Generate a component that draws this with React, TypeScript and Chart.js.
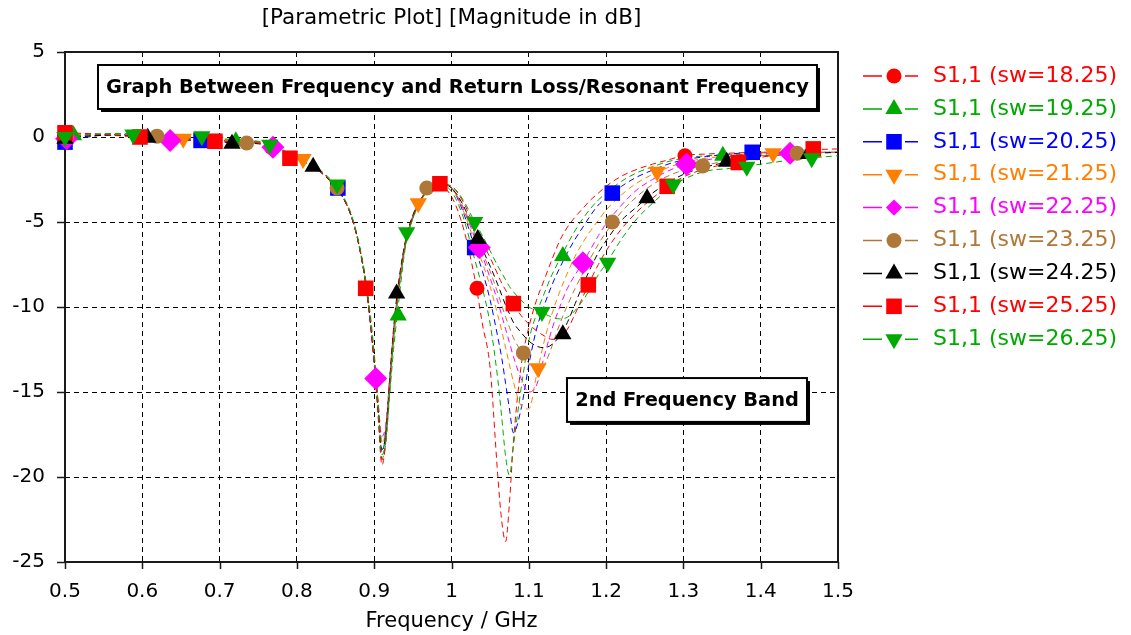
import React, { useEffect, useRef } from 'react';
import { Chart, registerables } from 'chart.js';

Chart.register(...registerables);

const FONT = "'DejaVu Sans', Verdana, sans-serif";

// Frequency grid (GHz) shared by all curves
const freqGHz = [0.50, 0.53, 0.56, 0.60, 0.65, 0.70, 0.75, 0.77, 0.79, 0.81, 0.83, 0.85, 0.86, 0.87, 0.88, 0.89, 0.90, 0.905, 0.91, 0.915, 0.92, 0.925, 0.93, 0.94, 0.95, 0.96, 0.97, 0.985, 1.00, 1.015, 1.03, 1.04, 1.05, 1.06, 1.065, 1.07, 1.075, 1.08, 1.09, 1.10, 1.11, 1.12, 1.13, 1.14, 1.15, 1.16, 1.17, 1.18, 1.19, 1.20, 1.22, 1.24, 1.26, 1.28, 1.30, 1.33, 1.36, 1.40, 1.45, 1.50];

// S1,1 magnitude (dB) per sweep value
const s11_sw1825 = [0.1, 0.2, 0.1, 0.1, -0.05, -0.2, -0.35, -0.6, -1.05, -1.45, -2.0, -2.9, -3.6, -4.6, -6.3, -9.0, -13.3, -16.4, -19.3, -17.9, -14.6, -11.6, -9.4, -6.3, -4.7, -3.7, -3.1, -2.9,
  -3.5, -5.3, -8.3, -11.0, -13.6, -20.0, -22.6, -23.8, -21.5, -18.0, -13.5, -11.2, -9.6, -8.4, -7.2, -6.1, -5.3, -4.7, -4.2, -3.7, -3.3, -2.9, -2.3, -1.9, -1.6, -1.35, -1.1, -1.0, -0.95, -0.9, -0.9, -0.9];
const s11_sw1925 = [0.05, 0.1, 0.2, 0.15, 0.0, -0.15, -0.3, -0.55, -1.0, -1.4, -2.0, -2.9, -3.6, -4.6, -6.2, -8.7, -12.7, -15.8, -18.9, -18.0, -15.2, -12.5, -10.4, -6.6, -4.8, -3.8, -3.1, -2.8,
  -3.2, -4.7, -7.2, -8.9, -11.0, -14.3, -16.5, -18.8, -19.9, -18.2, -14.8, -12.0, -10.4, -9.2, -8.1, -7.2, -6.3, -5.5, -4.8, -4.2, -3.7, -3.3, -2.6, -2.1, -1.75, -1.45, -1.25, -1.1, -1.05, -1.0, -0.95, -0.9];
const s11_sw2025 = [-0.3, 0.0, 0.15, 0.1, -0.1, -0.2, -0.3, -0.55, -1.0, -1.4, -2.0, -2.9, -3.6, -4.6, -6.3, -8.9, -13.0, -15.8, -18.5, -17.4, -14.4, -11.6, -9.5, -6.3, -4.7, -3.7, -3.1, -2.75,
  -3.0, -4.4, -6.5, -7.9, -9.6, -11.8, -13.0, -14.5, -16.0, -17.4, -16.0, -13.4, -11.3, -9.9, -8.7, -7.7, -6.8, -6.0, -5.3, -4.6, -4.0, -3.6, -2.9, -2.35, -1.95, -1.6, -1.35, -1.15, -1.0, -0.9, -0.9, -0.9];
const s11_sw2125 = [0.0, 0.15, 0.1, 0.1, -0.1, -0.2, -0.3, -0.55, -1.0, -1.35, -2.0, -2.9, -3.6, -4.6, -6.3, -8.9, -12.8, -15.5, -18.0, -17.2, -14.3, -11.6, -9.5, -6.3, -4.6, -3.7, -3.05, -2.75,
  -3.0, -4.3, -6.2, -7.4, -8.8, -10.5, -11.4, -12.4, -13.4, -14.4, -15.8, -16.0, -14.0, -12.0, -10.4, -9.1, -8.0, -7.0, -6.2, -5.5, -4.9, -4.3, -3.4, -2.7, -2.2, -1.8, -1.5, -1.25, -1.1, -0.95, -0.9, -0.9];
const s11_sw2225 = [-0.1, 0.1, 0.1, 0.05, -0.15, -0.25, -0.35, -0.6, -1.0, -1.4, -2.0, -2.9, -3.6, -4.6, -6.3, -9.0, -13.4, -15.6, -17.6, -16.9, -14.2, -11.5, -9.4, -6.3, -4.7, -3.7, -3.1, -2.75,
  -3.0, -4.2, -5.9, -7.0, -8.3, -9.7, -10.5, -11.3, -12.1, -12.9, -14.2, -15.0, -14.6, -12.9, -11.3, -10.0, -8.9, -8.1, -7.4, -6.6, -5.8, -5.1, -4.0, -3.1, -2.5, -2.0, -1.65, -1.35, -1.15, -1.0, -0.95, -0.9];
const s11_sw2325 = [0.0, 0.05, 0.15, 0.1, -0.1, -0.25, -0.35, -0.55, -1.0, -1.4, -2.0, -2.9, -3.6, -4.6, -6.3, -8.9, -13.0, -15.7, -17.9, -17.1, -14.3, -11.5, -9.4, -6.3, -4.7, -3.7, -3.05, -2.75,
  -3.0, -4.1, -5.7, -6.8, -7.9, -9.2, -9.9, -10.6, -11.2, -11.8, -12.6, -13.3, -13.7, -13.4, -12.3, -11.0, -9.9, -8.9, -8.0, -7.1, -6.3, -5.6, -4.4, -3.5, -2.8, -2.3, -1.95, -1.65, -1.35, -1.1, -0.95, -0.9];
const s11_sw2425 = [-0.1, 0.05, 0.1, 0.0, -0.15, -0.3, -0.4, -0.6, -1.05, -1.5, -2.05, -2.95, -3.6, -4.6, -6.3, -8.9, -13.1, -15.9, -18.4, -17.4, -14.3, -11.3, -9.1, -6.2, -4.6, -3.7, -3.05, -2.75,
  -3.0, -4.0, -5.6, -6.6, -7.6, -8.7, -9.3, -9.9, -10.4, -10.9, -11.5, -12.0, -12.3, -12.4, -12.2, -11.7, -10.9, -9.8, -8.7, -7.7, -6.8, -6.1, -4.9, -4.1, -3.3, -2.7, -2.2, -1.75, -1.45, -1.15, -1.0, -0.9];
const s11_sw2525 = [0.25, 0.2, 0.1, 0.0, -0.15, -0.25, -0.35, -0.65, -1.2, -1.5, -2.05, -2.9, -3.6, -4.6, -6.3, -8.9, -13.2, -16.1, -19.0, -17.8, -14.5, -11.6, -9.4, -6.3, -4.7, -3.7, -3.1, -2.75,
  -2.9, -3.8, -5.3, -6.2, -7.1, -8.1, -8.6, -9.0, -9.4, -9.8, -10.5, -11.0, -11.4, -11.7, -11.9, -11.8, -11.3, -10.4, -9.4, -8.4, -7.5, -6.7, -5.4, -4.4, -3.6, -2.9, -2.35, -1.85, -1.55, -1.2, -0.8, -0.7];
const s11_sw2625 = [0.0, 0.15, 0.2, 0.15, 0.05, -0.1, -0.25, -0.5, -0.95, -1.35, -1.95, -2.8, -3.5, -4.5, -6.2, -8.8, -12.9, -15.7, -18.7, -17.8, -15.0, -12.0, -9.8, -6.5, -4.8, -3.8, -3.1, -2.8,
  -2.9, -3.7, -5.0, -5.8, -6.7, -7.6, -8.0, -8.4, -8.8, -9.1, -9.6, -10.0, -10.2, -10.4, -10.6, -10.7, -10.6, -10.2, -9.6, -8.9, -8.1, -7.45, -6.0, -4.8, -3.9, -3.1, -2.5, -2.0, -1.85, -1.6, -1.3, -1.1];

// Marker samples [GHz, dB] per series
const mk_sw1825 = [[0.5, 0.1], [0.767, -0.6], [1.033, -8.9], [1.302, -1.1]];
const mk_sw1925 = [[0.511, 0.1], [0.721, -0.25], [0.931, -10.5], [1.144, -7.0], [1.351, -1.1]];
const mk_sw2025 = [[0.5, -0.3], [0.676, -0.2], [0.853, -3.0], [1.030, -6.5], [1.208, -3.3], [1.389, -0.9]];
const mk_sw2125 = [[0.5, 0.0], [0.653, -0.1], [0.808, -1.3], [0.957, -3.9], [1.112, -13.6], [1.266, -2.05], [1.416, -0.95]];
const mk_sw2225 = [[0.502, -0.1], [0.636, -0.2], [0.769, -0.6], [0.902, -14.2], [1.036, -6.5], [1.170, -7.4], [1.304, -1.6], [1.438, -0.95]];
const mk_sw2325 = [[0.502, 0.0], [0.619, 0.05], [0.735, -0.35], [0.852, -3.0], [0.968, -3.0], [1.093, -12.7], [1.208, -5.0], [1.325, -1.7], [1.447, -0.95]];
const mk_sw2425 = [[0.5, -0.1], [0.607, -0.05], [0.716, -0.4], [0.821, -1.75], [0.929, -9.2], [1.034, -6.0], [1.144, -11.6], [1.253, -3.6], [1.356, -1.45], [1.462, -1.0]];
const mk_sw2525 = [[0.5, 0.25], [0.597, 0.0], [0.694, -0.25], [0.791, -1.25], [0.889, -8.9], [0.985, -2.75], [1.080, -9.8], [1.177, -8.7], [1.279, -2.9], [1.371, -1.5], [1.468, -0.7]];
const mk_sw2625 = [[0.5, 0.0], [0.588, 0.15], [0.677, 0.05], [0.765, -0.45], [0.852, -2.8], [0.942, -5.6], [1.030, -5.0], [1.117, -10.3], [1.202, -7.4], [1.287, -2.8], [1.382, -1.75], [1.466, -1.25]];

const seriesNames = ['S1,1 (sw=18.25)', 'S1,1 (sw=19.25)', 'S1,1 (sw=20.25)', 'S1,1 (sw=21.25)', 'S1,1 (sw=22.25)', 'S1,1 (sw=23.25)', 'S1,1 (sw=24.25)', 'S1,1 (sw=25.25)', 'S1,1 (sw=26.25)'];
const seriesValues = [s11_sw1825, s11_sw1925, s11_sw2025, s11_sw2125, s11_sw2225, s11_sw2325, s11_sw2425, s11_sw2525, s11_sw2625];
const seriesMarkers = [mk_sw1825, mk_sw1925, mk_sw2025, mk_sw2125, mk_sw2225, mk_sw2325, mk_sw2425, mk_sw2525, mk_sw2625];

const xTickMin = 0.5;
const xTickMax = 1.5;
const xTickStep = 0.1;
const yTickMin = -25;
const yTickMax = 5;
const yTickStep = 5;

const titleText = '[Parametric Plot] [Magnitude in dB]';
const xAxisTitle = 'Frequency / GHz';
const annotationTexts = ['Graph Between Frequency and Return Loss/Resonant Frequency', '2nd Frequency Band'];

// styles
const seriesColors = ['#ff0000', '#00aa00', '#0000ff', '#ff8000', '#ff00ff', '#b07838', '#000000', '#ff0000', '#00aa00'];
const seriesShapes = [
  { style: 'circle', radius: 7.5, rotation: 0 },
  { style: 'triangle', radius: 10, rotation: 0 },
  { style: 'rect', radius: 11, rotation: 0 },
  { style: 'triangle', radius: 10, rotation: 180 },
  { style: 'rectRot', radius: 11.5, rotation: 0 },
  { style: 'circle', radius: 7.5, rotation: 0 },
  { style: 'triangle', radius: 10, rotation: 0 },
  { style: 'rect', radius: 11, rotation: 0 },
  { style: 'triangle', radius: 10, rotation: 180 },
];

function drawShape(ctx: CanvasRenderingContext2D, style: string, x: number, y: number, r: number, rotation: number) {
  ctx.beginPath();
  if (style === 'circle') {
    ctx.arc(x, y, r, 0, Math.PI * 2);
  } else if (style === 'triangle') {
    let rad = (rotation * Math.PI) / 180;
    ctx.moveTo(x + Math.sin(rad) * r, y - Math.cos(rad) * r);
    rad += (2 * Math.PI) / 3;
    ctx.lineTo(x + Math.sin(rad) * r, y - Math.cos(rad) * r);
    rad += (2 * Math.PI) / 3;
    ctx.lineTo(x + Math.sin(rad) * r, y - Math.cos(rad) * r);
    ctx.closePath();
  } else if (style === 'rect') {
    const s = r * Math.SQRT1_2;
    ctx.rect(x - s, y - s, 2 * s, 2 * s);
  } else if (style === 'rectRot') {
    const s = r * Math.SQRT1_2;
    ctx.moveTo(x - s, y);
    ctx.lineTo(x, y + s);
    ctx.lineTo(x + s, y);
    ctx.lineTo(x, y - s);
    ctx.closePath();
  }
  ctx.fill();
}

const framePlugin = {
  id: 'frameTicks',
  beforeDatasetsDraw(chart: any) {
    const { ctx, chartArea: a, scales } = chart;
    ctx.save();
    ctx.strokeStyle = '#1a1a1a';
    ctx.lineWidth = 2;
    ctx.strokeRect(a.left, a.top, a.right - a.left, a.bottom - a.top);
    ctx.lineWidth = 1.5;
    ctx.beginPath();
    scales.x.ticks.forEach((t: any) => {
      const px = Math.round(scales.x.getPixelForValue(t.value)) + 0.5;
      ctx.moveTo(px, a.bottom);
      ctx.lineTo(px, a.bottom + 7);
    });
    scales.y.ticks.forEach((t: any) => {
      const py = Math.round(scales.y.getPixelForValue(t.value)) + 0.5;
      ctx.moveTo(a.left - 8, py);
      ctx.lineTo(a.left, py);
    });
    ctx.stroke();
    ctx.restore();
  },
};

// annotation boxes in data coordinates: [x0 GHz, x1 GHz, yTop dB, yBottom dB]
const annotationBoxes = [
  [0.5427, 1.4728, 4.235, 1.647],
  [1.1494, 1.4599, -14.18, -16.76],
];

const annotationPlugin = {
  id: 'annotBoxes',
  afterDatasetsDraw(chart: any) {
    const { ctx, scales } = chart;
    ctx.save();
    annotationBoxes.forEach((b, i) => {
      const x0 = scales.x.getPixelForValue(b[0]);
      const x1 = scales.x.getPixelForValue(b[1]);
      const y0 = scales.y.getPixelForValue(b[2]);
      const y1 = scales.y.getPixelForValue(b[3]);
      ctx.fillStyle = '#000';
      ctx.fillRect(x0 + 3, y0 + 3, x1 - x0, y1 - y0);
      ctx.fillStyle = '#fff';
      ctx.fillRect(x0, y0, x1 - x0, y1 - y0);
      ctx.strokeStyle = '#000';
      ctx.lineWidth = 2;
      ctx.strokeRect(x0, y0, x1 - x0, y1 - y0);
      ctx.fillStyle = '#000';
      ctx.font = `bold 19.4px ${FONT}`;
      ctx.textAlign = 'center';
      ctx.textBaseline = 'middle';
      ctx.fillText(annotationTexts[i], (x0 + x1) / 2, (y0 + y1) / 2 + 1);
    });
    ctx.restore();
  },
};

const legendPlugin = {
  id: 'sideLegend',
  afterDraw(chart: any) {
    const { ctx, chartArea: a } = chart;
    ctx.save();
    ctx.font = `22px ${FONT}`;
    ctx.textBaseline = 'middle';
    ctx.textAlign = 'left';
    seriesNames.forEach((name, i) => {
      const y = 76 + i * 32.9;
      const c = seriesColors[i];
      ctx.strokeStyle = c;
      ctx.lineWidth = 1.5;
      ctx.beginPath();
      ctx.moveTo(a.right + 25, y);
      ctx.lineTo(a.right + 44, y);
      ctx.moveTo(a.right + 67, y);
      ctx.lineTo(a.right + 80, y);
      ctx.stroke();
      ctx.fillStyle = c;
      const sh = seriesShapes[i];
      drawShape(ctx, sh.style, a.right + 56, y, sh.radius, sh.rotation);
      ctx.fillText(name, a.right + 95, y);
    });
    ctx.restore();
  },
};

export default function App() {
  const canvasRef = useRef<HTMLCanvasElement | null>(null);

  useEffect(() => {
    if (!canvasRef.current) return;
    const curveSets = seriesValues.map((vals, i) => ({
      label: seriesNames[i],
      data: freqGHz.map((f, k) => ({ x: f, y: vals[k] })),
      borderColor: seriesColors[i],
      backgroundColor: seriesColors[i],
      borderWidth: 1,
      borderDash: [6, 4],
      pointRadius: 0,
      cubicInterpolationMode: 'monotone' as const,
      fill: false,
      order: 100 - i,
    }));
    const markerSets = seriesMarkers.map((mk, i) => ({
      label: seriesNames[i] + ' markers',
      data: mk.map(([f, v]) => ({ x: f, y: v })),
      showLine: false,
      borderColor: seriesColors[i],
      backgroundColor: seriesColors[i],
      borderWidth: 0,
      pointStyle: seriesShapes[i].style as any,
      pointRadius: seriesShapes[i].radius,
      pointRotation: seriesShapes[i].rotation,
      pointHoverRadius: seriesShapes[i].radius,
      clip: false as any,
      order: 20 - i,
    }));

    const chart = new Chart(canvasRef.current, {
      type: 'line',
      data: { datasets: [...markerSets, ...curveSets] as any },
      options: {
        animation: false,
        responsive: true,
        maintainAspectRatio: false,
        devicePixelRatio: 1,
        layout: { padding: { left: 0, right: 293, top: 0, bottom: 0 } },
        plugins: {
          legend: { display: false },
          tooltip: { enabled: false },
          title: {
            display: true,
            text: titleText,
            fullSize: false,
            color: '#000',
            font: { family: FONT, size: 21.5, weight: 'normal' },
            padding: { top: 6, bottom: 20.2 },
          },
        },
        scales: {
          x: {
            type: 'linear',
            min: xTickMin,
            max: xTickMax,
            afterFit: (s: any) => { s.height = 73; },
            ticks: {
              stepSize: xTickStep,
              autoSkip: false,
              maxRotation: 0,
              padding: 18,
              color: '#000',
              font: { family: FONT, size: 20 },
              callback: (v: any) => String(Math.round(Number(v) * 10) / 10),
            },
            grid: { color: '#000', lineWidth: 1, drawTicks: false },
            border: { display: false, dash: [5, 4] },
            title: {
              display: true,
              text: xAxisTitle,
              color: '#000',
              font: { family: FONT, size: 21 },
              padding: { top: 0, bottom: 1 },
            },
          },
          y: {
            type: 'linear',
            min: yTickMin,
            max: yTickMax,
            afterFit: (s: any) => { s.width = 65; },
            ticks: {
              stepSize: yTickStep,
              padding: 20,
              color: '#000',
              font: { family: FONT, size: 20 },
            },
            grid: { color: '#000', lineWidth: 1, drawTicks: false },
            border: { display: false, dash: [5, 4] },
          },
        },
      },
      plugins: [framePlugin, annotationPlugin, legendPlugin],
    });
    return () => chart.destroy();
  }, []);

  return (
    <div style={{ position: 'fixed', left: 0, top: 0, width: 1131, height: 635, background: '#fff' }}>
      <canvas ref={canvasRef} />
    </div>
  );
}
